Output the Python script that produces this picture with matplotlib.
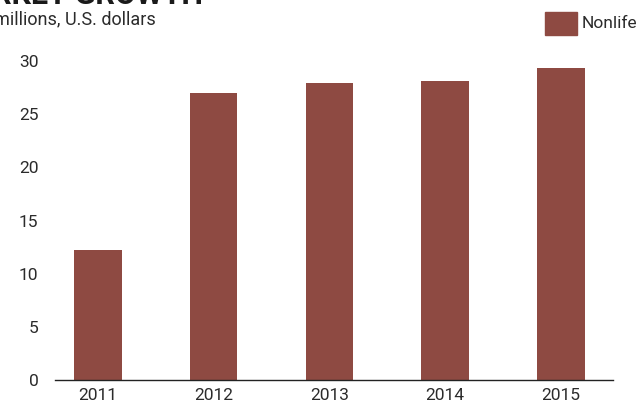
import matplotlib.pyplot as plt
import matplotlib.patches as mpatches

years = ["2011", "2012", "2013", "2014", "2015"]
nonlife = [12.2, 27.0, 27.9, 28.1, 29.3]
y_ticks = [0, 5, 10, 15, 20, 25, 30]

BAR = "#8e4a42"
TEXT = "#2b2b2b"

plt.rcParams["font.family"] = ["Roboto", "DejaVu Sans"]

fig = plt.figure(figsize=(6.44, 4.07), dpi=100)
ax = fig.add_axes([0.0854, 0.0663, 0.8666, 0.7838])

x = list(range(len(years)))
ax.bar(x, nonlife, width=0.41, color=BAR)

ax.set_xlim(-0.37, 4.45)
ax.set_ylim(0, 30)
ax.set_yticks(y_ticks)
ax.set_xticks(x)
ax.set_xticklabels(years)
ax.tick_params(axis="both", length=0, labelsize=12.5, colors=TEXT)
ax.tick_params(axis="y", pad=12)
ax.tick_params(axis="x", pad=6)
for side in ["top", "right", "left"]:
    ax.spines[side].set_visible(False)
ax.spines["bottom"].set_color("#222222")
ax.spines["bottom"].set_linewidth(1.0)

# header text runs off the canvas edges
fig.text(203 / 644, 1 - 4 / 407, "MARKET GROWTH", fontsize=22, fontweight="bold",
         color="#1a1a1a", ha="right", va="baseline")
fig.text(-0.009, 1 - 19 / 407, "millions, U.S. dollars", fontsize=13,
         color=TEXT, ha="left", va="center")

# legend swatch
fig.patches.append(mpatches.Rectangle((545 / 644, 1 - 35 / 407), 32 / 644, 23 / 407,
                                      transform=fig.transFigure, color=BAR))
fig.text(582 / 644, 1 - 24 / 407, "Nonlife", fontsize=12.5, color=TEXT,
         ha="left", va="center")

fig.savefig("out.png", dpi=100)
